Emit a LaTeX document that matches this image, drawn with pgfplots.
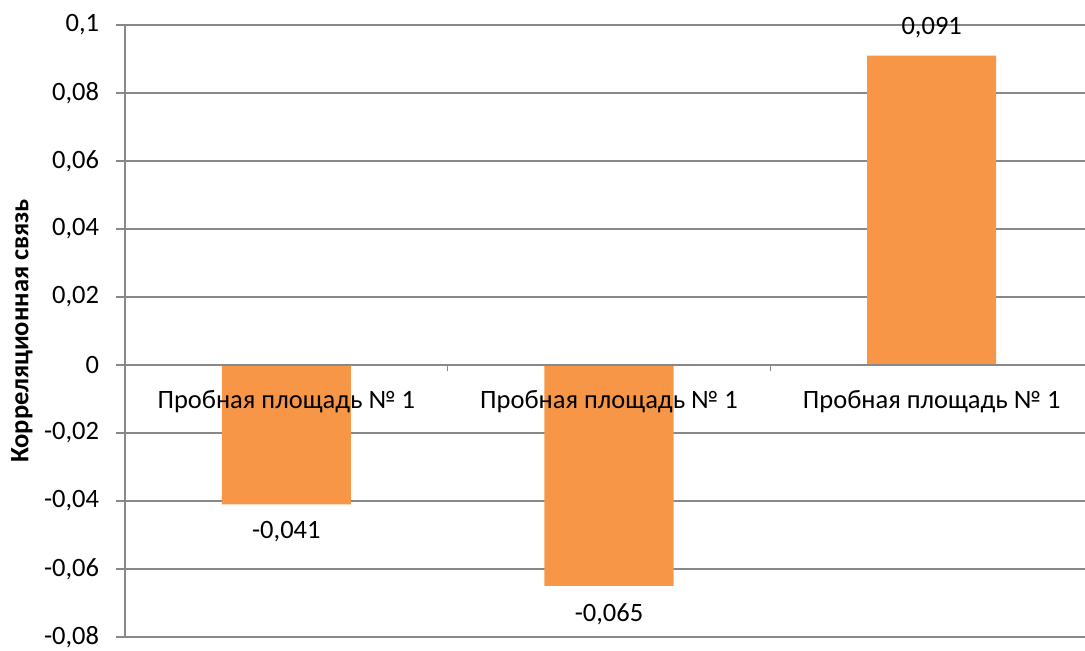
\documentclass[border=0pt]{standalone}
\usepackage{fontspec}
\setmainfont{Carlito}
\usepackage{pgfplots}
\pgfplotsset{compat=1.18}
\definecolor{barorange}{HTML}{F79646}
\definecolor{gridgray}{HTML}{888888}
\pgfplotsset{
  chartframe/.style={
    at={(0,0)}, anchor=south west,
    scale only axis,
    width=484pt, height=306pt,
    xmin=-0.5, xmax=2.5,
    ymin=-0.08, ymax=0.1,
    font=\fontsize{13.25}{15.9}\selectfont,
  },
}
\begin{document}
\begin{tikzpicture}
% bars, grid and axes
\begin{axis}[
  name=main,
  chartframe,
  axis x line=middle, axis y line=left,
  axis line style={gridgray, line width=0.8pt, -},
  ymajorgrids,
  grid style={gridgray, line width=0.8pt},
  ytick={-0.08,-0.06,-0.04,-0.02,0,0.02,0.04,0.06,0.08,0.1},
  yticklabels={{-0,08},{-0,06},{-0,04},{-0,02},{0},{0,02},{0,04},{0,06},{0,08},{0,1}},
  yticklabel style={anchor=east, inner sep=0pt, xshift=-8.5pt},
  ytick style={gridgray, line width=0.8pt, /pgfplots/major tick length=4.5pt},
  tick align=outside,
  xtick={0.5,1.5},
  xticklabels={},
  xtick style={gridgray, line width=0.8pt, /pgfplots/major tick length=3pt},
  every axis y label/.style={at={(axis description cs:-0.1064,0.5)}, rotate=90, anchor=center},
  ylabel={\bfseries Корреляционная связь},
  ybar, bar width=0.4,
  point meta=explicit symbolic,
  visualization depends on=rawy\as\rawy,
  nodes near coords,
  every node near coord/.append style={
    inner sep=8.5pt, text=black,
    /utils/exec={\ifdim\rawy pt<0pt \def\labanchor{north}\else\def\labanchor{south}\fi},
    anchor=\labanchor},
  clip=false,
]
\addplot[fill=barorange, draw=none] coordinates {(0,-0.041) [-0,041] (1,-0.065) [-0,065] (2,0.091) [0,091]};
\draw[gridgray, line width=0.8pt] (axis cs:-0.5,0) -- (axis cs:2.5,0);
\end{axis}
% category names, set over the bars
\begin{axis}[
  chartframe,
  axis x line=middle,
  axis y line=none,
  x axis line style={draw=none},
  xtick={0,1,2},
  xticklabels={Пробная площадь № 1, Пробная площадь № 1, Пробная площадь № 1},
  xtick style={draw=none},
  xticklabel style={anchor=north, inner sep=0pt, yshift=-10.5pt},
]
\end{axis}
\pgfresetboundingbox
\path (main.south west) ++(-62.5pt,-7pt) rectangle ++(542.5pt,325.5pt);
\end{tikzpicture}
\end{document}
